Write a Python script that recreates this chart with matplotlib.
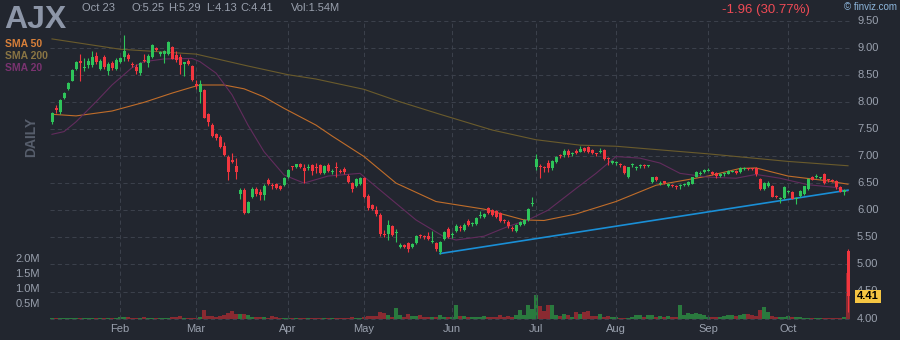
''' AJX daily candles with SMA overlays and volume, finviz dark style '''
import numpy as np
import pandas as pd
import matplotlib
matplotlib.use('Agg')
import matplotlib.pyplot as plt

# ---- data ----
holidays = ['2023-01-16', '2023-02-20', '2023-04-07', '2023-05-29',
            '2023-06-19', '2023-07-04', '2023-09-04']
days = pd.bdate_range('2023-01-06', '2023-10-23', freq='C', holidays=holidays)

opens = [
    7.63, 7.89, 7.81, 8.07, 8.23, 8.39, 8.61, 8.76, 8.63, 8.68,
    8.67, 8.85, 8.61, 8.83, 8.57, 8.72, 8.61, 8.73, 8.82, 8.87,
    8.69, 8.65, 8.53, 8.78, 8.71, 8.82, 9.00, 8.89, 8.88, 8.89,
    9.01, 8.87, 8.83, 8.70, 8.76, 8.66, 8.33, 8.18, 8.21, 7.77,
    7.57, 7.40, 7.35, 7.18, 6.99, 6.92, 6.82, 6.29, 6.38, 5.95,
    6.24, 6.40, 6.34, 6.28, 6.56, 6.45, 6.48, 6.45, 6.46, 6.62,
    6.80, 6.79, 6.86, 6.78, 6.77, 6.84, 6.80, 6.84, 6.68, 6.84,
    6.70, 6.80, 6.73, 6.76, 6.64, 6.50, 6.45, 6.48, 6.60, 6.27,
    6.10, 6.00, 5.92, 5.57, 5.56, 5.70, 5.58, 5.33, 5.35, 5.40,
    5.32, 5.39, 5.53, 5.52, 5.52, 5.42, 5.40, 5.23, 5.47, 5.65,
    5.54, 5.62, 5.68, 5.63, 5.80, 5.74, 5.75, 5.90, 5.88, 6.04,
    6.00, 5.98, 5.95, 5.81, 5.79, 5.66, 5.62, 5.72, 5.74, 5.82,
    6.11, 6.79, 6.80, 6.79, 6.88, 6.77, 6.89, 7.01, 7.01, 7.10,
    7.04, 7.10, 7.08, 7.15, 7.16, 7.11, 7.04, 7.08, 7.11, 6.96,
    6.88, 6.87, 6.85, 6.82, 6.61, 6.83, 6.78, 6.81, 6.83, 6.81,
    6.52, 6.61, 6.49, 6.52, 6.44, 6.46, 6.44, 6.44, 6.47, 6.46,
    6.49, 6.62, 6.67, 6.70, 6.73, 6.70, 6.68, 6.64, 6.66, 6.67,
    6.71, 6.73, 6.70, 6.76, 6.77, 6.77, 6.78, 6.58, 6.39, 6.44,
    6.45, 6.26, 6.20, 6.22, 6.34, 6.34, 6.20, 6.26, 6.30, 6.39,
    6.62, 6.62, 6.59, 6.66, 6.56, 6.55, 6.54, 6.42, 6.34, 5.25,
]
highs = [
    7.82, 7.95, 8.06, 8.19, 8.37, 8.60, 8.75, 8.88, 8.80, 8.80,
    8.94, 8.92, 8.79, 8.86, 8.74, 8.75, 8.81, 8.83, 9.24, 8.90,
    8.73, 8.70, 8.74, 8.89, 8.88, 9.06, 9.02, 8.93, 8.95, 9.13,
    9.03, 8.93, 8.88, 8.74, 8.79, 8.68, 8.40, 8.40, 8.24, 7.80,
    7.60, 7.43, 7.39, 7.25, 7.01, 7.05, 6.96, 6.41, 6.41, 6.17,
    6.42, 6.43, 6.39, 6.49, 6.59, 6.51, 6.50, 6.47, 6.61, 6.76,
    6.82, 6.86, 6.87, 6.86, 6.85, 6.86, 6.87, 6.86, 6.83, 6.87,
    6.76, 6.89, 6.76, 6.80, 6.66, 6.52, 6.60, 6.62, 6.62, 6.30,
    6.12, 6.08, 5.94, 5.63, 5.82, 5.72, 5.66, 5.40, 5.38, 5.42,
    5.40, 5.54, 5.56, 5.55, 5.60, 5.62, 5.42, 5.43, 5.62, 5.69,
    5.60, 5.74, 5.72, 5.76, 5.84, 5.78, 5.87, 5.98, 5.95, 6.06,
    6.03, 6.00, 5.97, 5.84, 5.81, 5.70, 5.74, 5.80, 5.83, 6.04,
    6.24, 7.03, 6.85, 6.82, 6.92, 6.92, 7.00, 7.03, 7.12, 7.12,
    7.08, 7.13, 7.18, 7.17, 7.18, 7.13, 7.06, 7.14, 7.12, 6.98,
    6.92, 6.90, 6.87, 6.84, 6.80, 6.88, 6.82, 6.85, 6.85, 6.84,
    6.62, 6.63, 6.53, 6.54, 6.50, 6.48, 6.46, 6.48, 6.50, 6.53,
    6.62, 6.72, 6.72, 6.76, 6.78, 6.72, 6.70, 6.68, 6.70, 6.74,
    6.74, 6.74, 6.79, 6.79, 6.78, 6.78, 6.80, 6.60, 6.52, 6.53,
    6.47, 6.28, 6.24, 6.44, 6.37, 6.36, 6.24, 6.38, 6.45, 6.60,
    6.64, 6.66, 6.62, 6.68, 6.58, 6.57, 6.56, 6.44, 6.40, 5.29,
]
lows = [
    7.59, 7.80, 7.78, 8.05, 8.21, 8.38, 8.59, 8.38, 8.56, 8.62,
    8.64, 8.69, 8.59, 8.60, 8.49, 8.58, 8.59, 8.72, 8.75, 8.76,
    8.65, 8.52, 8.50, 8.74, 8.65, 8.80, 8.94, 8.85, 8.72, 8.87,
    8.79, 8.74, 8.51, 8.47, 8.68, 8.38, 8.24, 7.98, 7.70, 7.55,
    7.35, 7.30, 7.14, 7.00, 6.55, 6.87, 6.58, 6.21, 5.93, 5.94,
    6.23, 6.26, 6.18, 6.18, 6.46, 6.40, 6.40, 6.38, 6.44, 6.60,
    6.75, 6.77, 6.77, 6.50, 6.74, 6.65, 6.68, 6.66, 6.66, 6.70,
    6.66, 6.62, 6.68, 6.66, 6.50, 6.33, 6.43, 6.46, 6.22, 6.00,
    6.00, 5.90, 5.52, 5.50, 5.45, 5.52, 5.42, 5.30, 5.30, 5.22,
    5.30, 5.37, 5.48, 5.47, 5.45, 5.40, 5.25, 5.20, 5.45, 5.48,
    5.48, 5.60, 5.62, 5.62, 5.70, 5.70, 5.73, 5.86, 5.86, 5.93,
    5.90, 5.86, 5.78, 5.76, 5.68, 5.62, 5.60, 5.70, 5.72, 5.80,
    6.08, 6.75, 6.60, 6.70, 6.70, 6.74, 6.88, 6.97, 6.99, 6.99,
    7.00, 7.03, 7.07, 7.08, 7.06, 7.04, 7.00, 7.06, 6.92, 6.84,
    6.86, 6.84, 6.80, 6.66, 6.60, 6.80, 6.75, 6.78, 6.78, 6.79,
    6.50, 6.54, 6.47, 6.48, 6.42, 6.42, 6.40, 6.40, 6.44, 6.44,
    6.48, 6.61, 6.65, 6.69, 6.72, 6.65, 6.60, 6.62, 6.64, 6.66,
    6.70, 6.67, 6.69, 6.75, 6.74, 6.74, 6.64, 6.38, 6.38, 6.42,
    6.24, 6.22, 6.14, 6.20, 6.32, 6.20, 6.12, 6.24, 6.28, 6.38,
    6.55, 6.60, 6.57, 6.49, 6.52, 6.52, 6.40, 6.33, 6.28, 4.13,
]
closes = [
    7.80, 7.85, 8.04, 8.17, 8.35, 8.59, 8.73, 8.71, 8.65, 8.76,
    8.82, 8.73, 8.76, 8.65, 8.70, 8.62, 8.78, 8.80, 8.94, 8.79,
    8.67, 8.56, 8.71, 8.76, 8.84, 9.04, 8.96, 8.90, 8.93, 9.11,
    8.79, 8.77, 8.68, 8.73, 8.70, 8.40, 8.30, 8.32, 7.71, 7.63,
    7.37, 7.34, 7.17, 7.02, 6.70, 6.89, 6.71, 6.38, 5.95, 6.15,
    6.40, 6.29, 6.28, 6.45, 6.48, 6.44, 6.41, 6.40, 6.60, 6.74,
    6.79, 6.85, 6.79, 6.73, 6.78, 6.72, 6.78, 6.68, 6.81, 6.72,
    6.72, 6.78, 6.71, 6.70, 6.52, 6.39, 6.58, 6.60, 6.24, 6.04,
    6.02, 5.93, 5.56, 5.55, 5.72, 5.55, 5.60, 5.35, 5.33, 5.29,
    5.38, 5.52, 5.52, 5.51, 5.47, 5.43, 5.28, 5.41, 5.59, 5.50,
    5.55, 5.70, 5.67, 5.72, 5.72, 5.75, 5.85, 5.91, 5.93, 5.95,
    5.92, 5.88, 5.80, 5.80, 5.70, 5.65, 5.72, 5.78, 5.81, 6.02,
    6.13, 6.94, 6.79, 6.78, 6.77, 6.90, 6.98, 7.00, 7.10, 7.01,
    7.05, 7.05, 7.12, 7.10, 7.08, 7.06, 7.03, 7.10, 6.94, 6.95,
    6.89, 6.88, 6.84, 6.68, 6.79, 6.84, 6.79, 6.82, 6.82, 6.82,
    6.61, 6.55, 6.50, 6.51, 6.49, 6.45, 6.43, 6.45, 6.48, 6.52,
    6.61, 6.70, 6.68, 6.74, 6.74, 6.66, 6.63, 6.65, 6.67, 6.72,
    6.72, 6.68, 6.78, 6.77, 6.76, 6.76, 6.66, 6.39, 6.50, 6.51,
    6.25, 6.25, 6.21, 6.42, 6.35, 6.21, 6.21, 6.36, 6.44, 6.58,
    6.56, 6.63, 6.60, 6.50, 6.55, 6.54, 6.42, 6.34, 6.37, 4.41,
]
# volume in millions of shares
volumes = [
    0.03, 0.02, 0.03, 0.02, 0.03, 0.02, 0.02, 0.03, 0.02, 0.02,
    0.03, 0.02, 0.02, 0.03, 0.03, 0.02, 0.02, 0.05, 0.07, 0.04,
    0.02, 0.03, 0.03, 0.05, 0.03, 0.02, 0.02, 0.03, 0.02, 0.03,
    0.05, 0.04, 0.09, 0.03, 0.02, 0.03, 0.02, 0.04, 0.30, 0.10,
    0.08, 0.07, 0.09, 0.13, 0.20, 0.25, 0.16, 0.14, 0.16, 0.11,
    0.06, 0.05, 0.05, 0.06, 0.03, 0.09, 0.04, 0.03, 0.03, 0.03,
    0.02, 0.02, 0.01, 0.03, 0.02, 0.02, 0.02, 0.03, 0.02, 0.02,
    0.01, 0.02, 0.02, 0.02, 0.03, 0.07, 0.03, 0.03, 0.07, 0.08,
    0.08, 0.08, 0.22, 0.18, 0.11, 0.06, 0.36, 0.11, 0.05, 0.16,
    0.09, 0.09, 0.13, 0.07, 0.07, 0.05, 0.04, 0.11, 0.07, 0.07,
    0.05, 0.45, 0.09, 0.08, 0.04, 0.05, 0.04, 0.06, 0.09, 0.07,
    0.07, 0.07, 0.11, 0.07, 0.09, 0.05, 0.11, 0.29, 0.13, 0.47,
    0.31, 0.79, 0.43, 0.25, 0.47, 0.47, 0.11, 0.09, 0.16, 0.11,
    0.07, 0.22, 0.16, 0.22, 0.25, 0.09, 0.09, 0.16, 0.05, 0.09,
    0.07, 0.05, 0.03, 0.03, 0.03, 0.07, 0.13, 0.11, 0.07, 0.11,
    0.13, 0.05, 0.09, 0.07, 0.09, 0.05, 0.07, 0.45, 0.13, 0.20,
    0.16, 0.20, 0.16, 0.11, 0.07, 0.07, 0.05, 0.07, 0.09, 0.13,
    0.13, 0.09, 0.13, 0.16, 0.16, 0.11, 0.09, 0.29, 0.40, 0.22,
    0.09, 0.07, 0.05, 0.07, 0.09, 0.07, 0.07, 0.05, 0.02, 0.02,
    0.03, 0.01, 0.01, 0.02, 0.03, 0.01, 0.01, 0.01, 0.07, 1.54,
]

# moving averages, sampled along the session index
sma200_idx = [0, 17, 36, 49, 59, 66, 78, 87, 97, 110, 121, 132, 141, 164, 184, 199]
sma200_val = [9.16, 8.97, 8.88, 8.66, 8.50, 8.42, 8.23, 8.00, 7.77, 7.48, 7.30, 7.20, 7.18, 7.04, 6.90, 6.82]
sma50_idx = [0, 6, 15, 23, 30, 35, 37, 43, 48, 53, 58, 66, 70, 78, 86, 96, 108, 118, 123, 131, 141, 151, 164, 172, 176, 184, 194, 199]
sma50_val = [7.77, 7.74, 7.83, 7.99, 8.16, 8.27, 8.31, 8.31, 8.24, 8.09, 7.88, 7.57, 7.37, 6.99, 6.50, 6.16, 6.02, 5.82, 5.81, 5.93, 6.16, 6.46, 6.63, 6.77, 6.78, 6.63, 6.54, 6.48]
sma20_idx = [0, 3, 6, 11, 15, 20, 23, 28, 35, 37, 41, 45, 49, 53, 58, 63, 69, 77, 84, 91, 98, 101, 108, 114, 119, 124, 131, 136, 141, 147, 152, 157, 164, 171, 176, 182, 189, 196, 199]
sma20_val = [7.40, 7.45, 7.63, 8.00, 8.31, 8.63, 8.74, 8.79, 8.80, 8.74, 8.53, 8.13, 7.57, 7.08, 6.65, 6.50, 6.63, 6.68, 6.25, 5.82, 5.51, 5.45, 5.52, 5.70, 5.82, 6.00, 6.40, 6.68, 6.99, 6.96, 6.87, 6.68, 6.61, 6.59, 6.66, 6.59, 6.47, 6.42, 6.34]

trend_idx = [97, 199]
trend_val = [5.20, 6.37]

price_ticks = [4.0, 4.5, 5.0, 5.5, 6.0, 6.5, 7.0, 7.5, 8.0, 8.5, 9.0, 9.5]
vol_ticks = [0.5, 1.0, 1.5, 2.0]

# ---- style ----
BG = '#22262f'
GRID = '#3b404b'
UP = '#2ec45a'
DOWN = '#f2363f'
VOL_UP = '#2a7a3e'
VOL_DOWN = '#8a2a31'
TXT = '#9aa1ae'
FONT = 'Liberation Sans'

W, H = 900, 340
fig = plt.figure(figsize=(W / 100, H / 100), dpi=100, facecolor=BG)


def px(x, y):
    ''' pixel position -> figure fraction '''
    return x / W, 1 - y / H


# one session = 4 px, first session at x=52; price 9.50 at y=20.5, 54.2 px per dollar
x0, step = 52, 4.0
ppd, y950 = 54.2, 20.5
xlim = (-x0 / step, (W - x0) / step)
ylim = (9.5 - (H - y950) / ppd, 9.5 + y950 / ppd)
# volume: zero at y=318.6, 29.8 px per million
vbase, vpm = 318.6, 29.8
vlim = (-(H - vbase) / vpm, vbase / vpm)

axv = fig.add_axes([0, 0, 1, 1])
axv.set_facecolor(BG)
ax = fig.add_axes([0, 0, 1, 1])
ax.patch.set_alpha(0)
for a in (ax, axv):
    a.set_xlim(*xlim)
    a.set_axis_off()
ax.set_ylim(*ylim)
axv.set_ylim(*vlim)

n = len(closes)
idx = np.arange(n)
o = np.array(opens)
c = np.array(closes)
up = c >= o

# volume bars
vcols = [VOL_UP if u else VOL_DOWN for u in up]
axv.bar(idx, volumes, width=0.92, color=vcols, linewidth=0)

# grid
dash = (0, (4, 3))
ax.hlines(price_ticks, -0.5, n - 0.5, colors=GRID, linewidth=0.75, linestyles=dash, zorder=1)
month_pos = [i for i in range(1, n) if days[i].month != days[i - 1].month]
ax.vlines(month_pos, 4.0, 9.5, colors=GRID, linewidth=0.75, linestyles=dash, zorder=1)

# moving averages and trendline
ax.plot(sma200_idx, sma200_val, color='#6a5b2c', lw=0.8, zorder=2)
ax.plot(sma50_idx, sma50_val, color='#c06d2a', lw=0.8, zorder=2)
ax.plot(sma20_idx, sma20_val, color='#622c5d', lw=0.8, zorder=2)
ax.plot(trend_idx, trend_val, color='#1a8fd6', lw=1.2, zorder=3)

# candles
ccols = [UP if u else DOWN for u in up]
ax.vlines(idx, lows, highs, colors=ccols, linewidth=0.8, zorder=4)
body_lo = np.minimum(o, c)
body_h = np.maximum(np.abs(c - o), 0.02)
ax.bar(idx, body_h, bottom=body_lo, width=0.75, color=ccols, linewidth=0, zorder=5)

# price labels on the right
for p in price_ticks:
    fig.text(*px(857, y950 + (9.5 - p) * ppd), '%.2f' % p, color=TXT,
             fontsize=8, family=FONT, ha='left', va='center')
last = closes[-1]
fig.text(*px(868, y950 + (9.5 - last) * ppd), '%.2f' % last, color='black',
         fontsize=8, family=FONT, weight='bold', ha='center', va='center',
         bbox=dict(boxstyle='square,pad=0.15', fc='#f5c542', ec='none'))

# volume labels on the left
for v in vol_ticks:
    fig.text(*px(40, vbase - v * vpm), '%.1fM' % v, color=TXT,
             fontsize=8, family=FONT, ha='right', va='center')

# month labels
for i in month_pos:
    fig.text(*px(x0 + step * i, 329), days[i].strftime('%b'), color=TXT,
             fontsize=8, family=FONT, ha='center', va='center')

# header
fig.text(*px(4, 28), 'AJX', color='#8d96a8', fontsize=23, family=FONT,
         weight='bold', ha='left', va='baseline')
fig.text(*px(82, 8), days[-1].strftime('%b %d'), color=TXT, fontsize=8,
         family=FONT, ha='left', va='center')
for x, s in [(131, 'O:%.2f' % opens[-1]), (168, 'H:%.2f' % highs[-1]),
             (206, 'L:%.2f' % lows[-1]), (240, 'C:%.2f' % closes[-1]),
             (291, 'Vol:%.2fM' % volumes[-1])]:
    fig.text(*px(x, 8), s, color=TXT, fontsize=8, family=FONT, ha='left', va='center')
chg = closes[-1] - closes[-2]
fig.text(*px(810, 10), '%.2f (%.2f%%)' % (chg, -chg / closes[-2] * 100),
         color='#ef4a55', fontsize=9.5, family=FONT, ha='right', va='center')
fig.text(*px(897, 7), '\u00a9 finviz.com', color='#8db6dc', fontsize=7,
         family=FONT, ha='right', va='center')

# legend and period tag
fig.text(*px(5, 44), 'SMA 50', color='#d8803a', fontsize=7.5, family=FONT, weight='bold', va='center')
fig.text(*px(5, 56), 'SMA 200', color='#8a7544', fontsize=7.5, family=FONT, weight='bold', va='center')
fig.text(*px(5, 68), 'SMA 20', color='#7a3370', fontsize=7.5, family=FONT, weight='bold', va='center')
fig.text(*px(31, 137), 'DAILY', color='#575e6c', fontsize=10, family=FONT,
         weight='bold', rotation=90, ha='center', va='center')

fig.savefig('out.png', dpi=100, facecolor=BG)
